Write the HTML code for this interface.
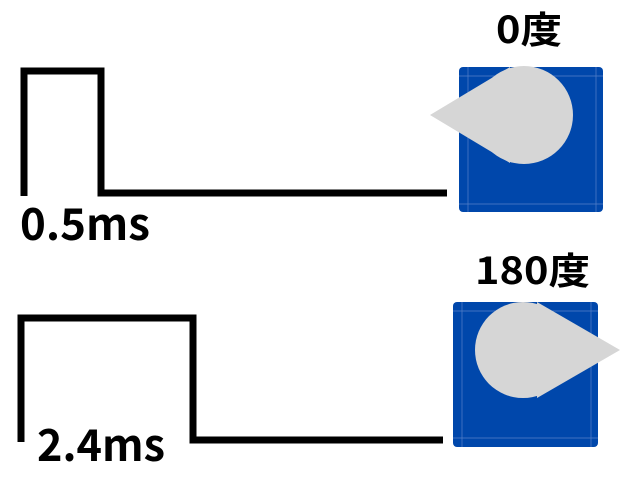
<!DOCTYPE html>
<html><head><meta charset="utf-8"><style>
html,body{margin:0;padding:0;background:#fff;width:640px;height:480px;overflow:hidden}
</style></head><body>
<svg width="640" height="480" xmlns="http://www.w3.org/2000/svg">
<g fill="none" stroke="#000" stroke-width="7">
<polyline points="24,196 24,71 101,71 101,193 447,193"/>
<polyline points="21,442 21,318 193,318 193,440 443,440"/>
</g>
<rect x="459" y="67" width="144" height="145" rx="4" fill="#0047ab"/>
<rect x="453" y="302" width="145" height="145" rx="4" fill="#0047ab"/>
<g stroke="#6a8fd0" stroke-width="0.7" fill="none" opacity="0.8">
<line x1="459" y1="76" x2="603" y2="76"/><line x1="459" y1="204" x2="603" y2="204"/>
<line x1="468" y1="67" x2="468" y2="212"/><line x1="596" y1="67" x2="596" y2="212"/>
<line x1="453" y1="311" x2="598" y2="311"/><line x1="453" y1="438" x2="598" y2="438"/>
<line x1="462" y1="302" x2="462" y2="447"/><line x1="591" y1="302" x2="591" y2="447"/>
</g>
<g fill="#d6d6d6">
<circle cx="524" cy="115" r="49"/>
<polygon points="430,115 510,67 510,163"/>
<circle cx="523" cy="350" r="48"/>
<polygon points="620,350 537,302 537,398"/>
</g>
<g font-family="Noto Sans CJK JP, sans-serif" font-weight="bold" fill="#000">
<text x="20" y="240" font-size="44" textLength="130" lengthAdjust="spacingAndGlyphs">0.5ms</text>
<text x="37" y="461" font-size="44" textLength="128" lengthAdjust="spacingAndGlyphs">2.4ms</text>
<text x="496" y="43" font-size="37" textLength="66" lengthAdjust="spacingAndGlyphs">0度</text>
<text x="475" y="284" font-size="37" textLength="115" lengthAdjust="spacingAndGlyphs">180度</text>
</g>
</svg>
</body></html>
